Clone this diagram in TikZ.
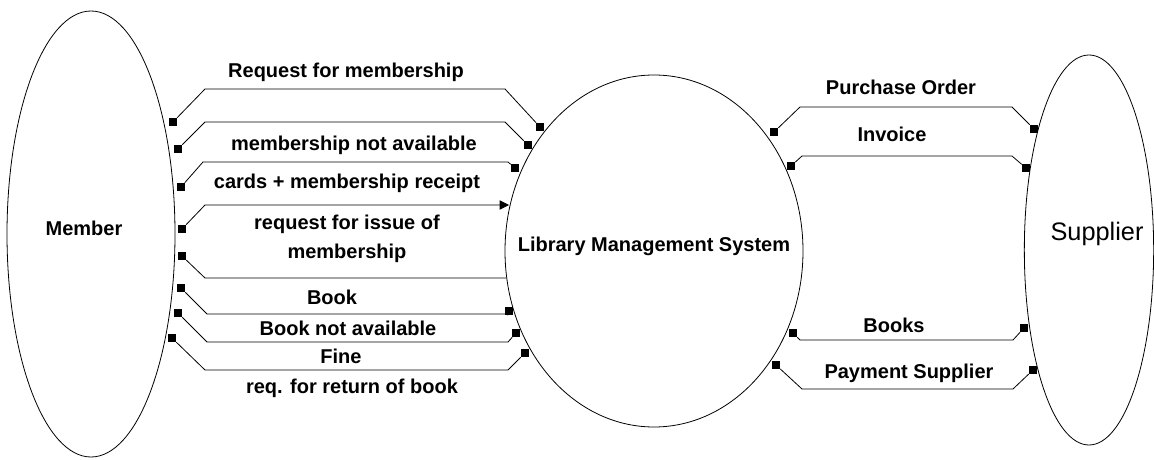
\documentclass[tikz,border=0pt]{standalone}
\usepackage{fontspec}
\setmainfont{Liberation Sans}
\usetikzlibrary{shapes.geometric,arrows.meta}
\begin{document}
\begin{tikzpicture}[x=0.75pt,y=0.75pt,yscale=-1,xscale=1,
  ent/.style={ellipse,draw,line width=0.6pt,inner sep=0pt},
  port/.style={rectangle,fill=black,inner sep=0pt,minimum size=6pt},
  flow/.style={line width=0.6pt},
  lbl/.style={font=\bfseries\fontsize{15}{21.75}\selectfont,anchor=base,align=center}]
            \useasboundingbox (0,0) rectangle (1154,460);
            \node[ent,minimum width=126pt,minimum height=334.5pt] (member) at (91,234) {};
            \node[ent,minimum width=223.5pt,minimum height=264pt] (lms) at (654,251) {};
            \node[ent,minimum width=97pt,minimum height=292.5pt] (supplier) at (1089,250) {};
            \node[lbl] (membertxt) at (84,235) {Member};
            \node[lbl] (lmstxt) at (654,251) {Library Management System};
            \node[lbl,font=\fontsize{19}{22}\selectfont] (suppliertxt) at (1097,240) {Supplier};
            \node[port] (m1) at (173,122) {};
            \node[port] (m2) at (178,149) {};
            \node[port] (m3) at (181,187) {};
            \node[port] (m4) at (182,229) {};
            \node[port] (m5) at (182,256) {};
            \node[port] (m6) at (181,288) {};
            \node[port] (m7) at (178,313) {};
            \node[port] (m8) at (172,338) {};
            \node[port] (l1) at (540,127) {};
            \node[port] (l2) at (528,145) {};
            \node[port] (l3) at (515,168) {};
            \node[port] (l6) at (509,311) {};
            \node[port] (l7) at (516,333) {};
            \node[port] (l8) at (525,353) {};
            \node[port] (r1) at (774,132) {};
            \node[port] (r2) at (791,166) {};
            \node[port] (r3) at (793,333) {};
            \node[port] (r4) at (776,365) {};
            \node[port] (s1) at (1034,129) {};
            \node[port] (s2) at (1026,168) {};
            \node[port] (s3) at (1024,328) {};
            \node[port] (s4) at (1033,370) {};
            \coordinate (lmsin) at (509,205);
            \coordinate (lmsout) at (506,278);
            \draw[flow] (m1) -- (205,89) -- (505,89) -- (l1);
            \draw[flow] (m2) -- (205,122) -- (505,122) -- (l2);
            \draw[flow] (m3) -- (203,162) -- (508,162) -- (l3);
            \draw[flow,-{Triangle[length=7pt,width=7pt]}] (m4) -- (205,205) -- (lmsin);
            \draw[flow] (m5) -- (205,278) -- (lmsout);
            \draw[flow] (m6) -- (207,314) -- (508,314) -- (l6);
            \draw[flow] (m7) -- (207,342) -- (508,342) -- (l7);
            \draw[flow] (m8) -- (205,370) -- (508,370) -- (l8);
            \draw[flow] (r1) -- (800,107) -- (1012,107) -- (s1);
            \draw[flow] (r2) -- (802,156) -- (1012,156) -- (s2);
            \draw[flow] (r3) -- (800,340) -- (1013,340) -- (s3);
            \draw[flow] (r4) -- (802,389) -- (1013,389) -- (s4);
            \node[lbl] (t1) at (346,78) {Request for membership};
            \node[lbl] (t2) at (354,151) {membership not available};
            \node[lbl] (t3) at (347,188) {cards + membership receipt};
            \node[lbl,anchor=center] (t4) at (347,239) {request for issue of\\membership};
            \node[lbl] (t5) at (332,304) {Book};
            \node[lbl] (t6) at (348,335) {Book not available};
            \node[lbl] (t7) at (341,363) {Fine};
            \node[lbl] (t8) at (352,393) {req. for return of book};
            \node[lbl] (t9) at (901,95) {Purchase Order};
            \node[lbl] (t10) at (892,142) {Invoice};
            \node[lbl] (t11) at (894,332) {Books};
            \node[lbl] (t12) at (909,378) {Payment Supplier};
        \end{tikzpicture}
\end{document}
